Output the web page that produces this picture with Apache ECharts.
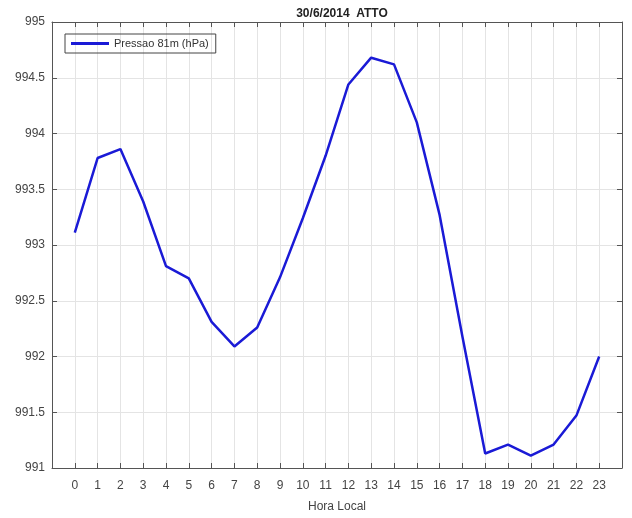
<!DOCTYPE html>
<html><head><meta charset="utf-8">
<script src="https://cdn.jsdelivr.net/npm/echarts@6/dist/echarts.min.js"></script>
<style>html,body{margin:0;padding:0;background:#fff}#c{width:632px;height:518px}</style>
</head><body><div id="c"></div>
<script>
var hours = [0,1,2,3,4,5,6,7,8,9,10,11,12,13,14,15,16,17,18,19,20,21,22,23];
var pressure = [993.11,993.78,993.86,993.39,992.81,992.70,992.31,992.09,992.26,992.71,993.24,993.80,994.44,994.68,994.62,994.10,993.27,992.18,991.13,991.21,991.11,991.21,991.47,992.00];
var seriesName = 'Pressao 81m (hPa)';
var titleText = '30/6/2014  ATTO';
var xName = 'Hora Local';

var font = 'Liberation Sans, Arial, sans-serif';
var axisCol = '#555';
var chart = echarts.init(document.getElementById('c'), null, {renderer:'canvas'});
var data = hours.map(function(h,i){return [h, pressure[i]];});
function axLine(){return {show:true, onZero:false, lineStyle:{color:axisCol, width:1}};}
chart.setOption({
  animation:false,
  backgroundColor:'#fff',
  title:{text:titleText, left:337, textAlign:'center', top:3,
    textStyle:{fontFamily:font, fontSize:12, fontWeight:'bold', color:'#222'}},
  legend:{left:65, top:34, orient:'vertical', padding:[4,7,4,6],
    borderColor:'#444', borderWidth:1, borderRadius:0,
    icon:'rect', itemWidth:38, itemHeight:3, itemGap:4,
    textStyle:{fontFamily:font, fontSize:11, color:'#333'},
    data:[seriesName]},
  grid:{left:52, right:10, top:22, bottom:45, containLabel:false},
  xAxis:[{type:'value', min:-1, max:24, interval:1, position:'bottom',
    name:xName, nameLocation:'middle', nameGap:33,
    nameTextStyle:{fontFamily:font, fontSize:12, color:'#444'},
    axisLine:axLine(),
    axisTick:{show:true, inside:true, length:5, lineStyle:{color:axisCol}},
    axisLabel:{fontFamily:font, fontSize:12, color:'#444', margin:12,
      formatter:function(v){return (v<0||v>23)?'':String(v);}},
    splitLine:{show:true, lineStyle:{color:'#e4e4e4', width:1}}},
   {type:'value', min:-1, max:24, interval:1, position:'top',
    axisLine:axLine(),
    axisTick:{show:true, inside:true, length:5, lineStyle:{color:axisCol}},
    axisLabel:{show:false}, splitLine:{show:false}}],
  yAxis:[{type:'value', min:991, max:995, interval:0.5, position:'left',
    axisLine:axLine(),
    axisTick:{show:true, inside:true, length:5, lineStyle:{color:axisCol}},
    axisLabel:{fontFamily:font, fontSize:12, color:'#444', margin:7},
    splitLine:{show:true, lineStyle:{color:'#e4e4e4', width:1}}},
   {type:'value', min:991, max:995, interval:0.5, position:'right',
    axisLine:axLine(),
    axisTick:{show:true, inside:true, length:5, lineStyle:{color:axisCol}},
    axisLabel:{show:false}, splitLine:{show:false}}],
  series:[{name:seriesName, type:'line', data:data, showSymbol:false, symbol:'none',
    lineStyle:{color:'#1a1ad6', width:2.5}, itemStyle:{color:'#1a1ad6'}}]
});
</script></body></html>
